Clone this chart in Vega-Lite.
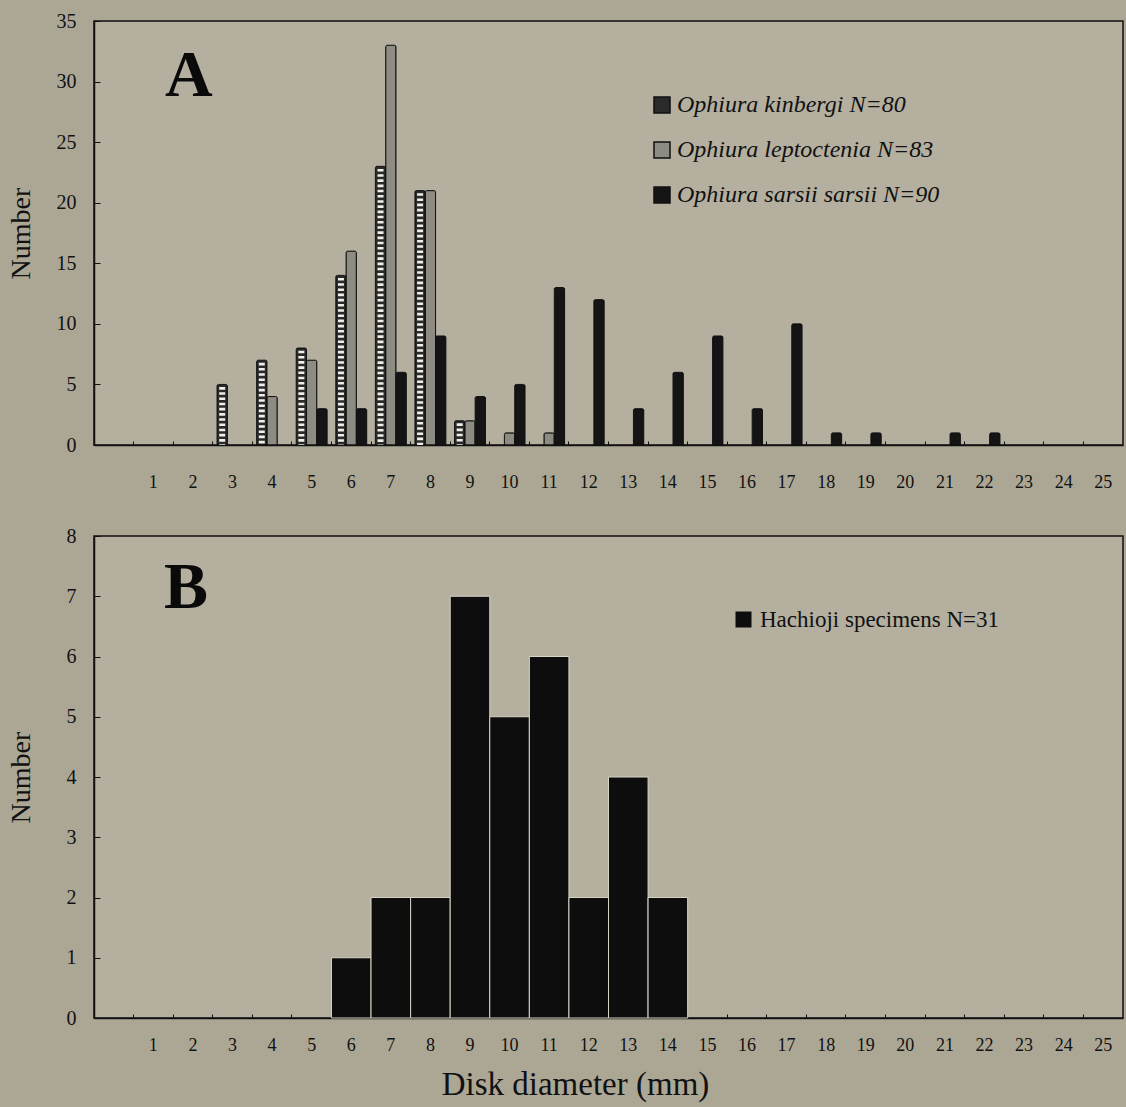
{
  "$schema": "https://vega.github.io/schema/vega-lite/v6.json",
  "background": "#aca795",
  "padding": {"left": 6, "top": 10, "right": 3, "bottom": 5},
  "spacing": 33,
  "resolve": {"scale": {"fill": "independent", "x": "independent", "y": "independent"}, "legend": {"fill": "independent"}},
  "datasets": {
    "panelA": [
      {"size": 3, "species": "Ophiura kinbergi", "legend": "Ophiura kinbergi N=80", "n": 5},
      {"size": 4, "species": "Ophiura kinbergi", "legend": "Ophiura kinbergi N=80", "n": 7},
      {"size": 4, "species": "Ophiura leptoctenia", "legend": "Ophiura leptoctenia N=83", "n": 4},
      {"size": 5, "species": "Ophiura kinbergi", "legend": "Ophiura kinbergi N=80", "n": 8},
      {"size": 5, "species": "Ophiura leptoctenia", "legend": "Ophiura leptoctenia N=83", "n": 7},
      {"size": 5, "species": "Ophiura sarsii sarsii", "legend": "Ophiura sarsii sarsii N=90", "n": 3},
      {"size": 6, "species": "Ophiura kinbergi", "legend": "Ophiura kinbergi N=80", "n": 14},
      {"size": 6, "species": "Ophiura leptoctenia", "legend": "Ophiura leptoctenia N=83", "n": 16},
      {"size": 6, "species": "Ophiura sarsii sarsii", "legend": "Ophiura sarsii sarsii N=90", "n": 3},
      {"size": 7, "species": "Ophiura kinbergi", "legend": "Ophiura kinbergi N=80", "n": 23},
      {"size": 7, "species": "Ophiura leptoctenia", "legend": "Ophiura leptoctenia N=83", "n": 33},
      {"size": 7, "species": "Ophiura sarsii sarsii", "legend": "Ophiura sarsii sarsii N=90", "n": 6},
      {"size": 8, "species": "Ophiura kinbergi", "legend": "Ophiura kinbergi N=80", "n": 21},
      {"size": 8, "species": "Ophiura leptoctenia", "legend": "Ophiura leptoctenia N=83", "n": 21},
      {"size": 8, "species": "Ophiura sarsii sarsii", "legend": "Ophiura sarsii sarsii N=90", "n": 9},
      {"size": 9, "species": "Ophiura kinbergi", "legend": "Ophiura kinbergi N=80", "n": 2},
      {"size": 9, "species": "Ophiura leptoctenia", "legend": "Ophiura leptoctenia N=83", "n": 2},
      {"size": 9, "species": "Ophiura sarsii sarsii", "legend": "Ophiura sarsii sarsii N=90", "n": 4},
      {"size": 10, "species": "Ophiura leptoctenia", "legend": "Ophiura leptoctenia N=83", "n": 1},
      {"size": 10, "species": "Ophiura sarsii sarsii", "legend": "Ophiura sarsii sarsii N=90", "n": 5},
      {"size": 11, "species": "Ophiura leptoctenia", "legend": "Ophiura leptoctenia N=83", "n": 1},
      {"size": 11, "species": "Ophiura sarsii sarsii", "legend": "Ophiura sarsii sarsii N=90", "n": 13},
      {"size": 12, "species": "Ophiura sarsii sarsii", "legend": "Ophiura sarsii sarsii N=90", "n": 12},
      {"size": 13, "species": "Ophiura sarsii sarsii", "legend": "Ophiura sarsii sarsii N=90", "n": 3},
      {"size": 14, "species": "Ophiura sarsii sarsii", "legend": "Ophiura sarsii sarsii N=90", "n": 6},
      {"size": 15, "species": "Ophiura sarsii sarsii", "legend": "Ophiura sarsii sarsii N=90", "n": 9},
      {"size": 16, "species": "Ophiura sarsii sarsii", "legend": "Ophiura sarsii sarsii N=90", "n": 3},
      {"size": 17, "species": "Ophiura sarsii sarsii", "legend": "Ophiura sarsii sarsii N=90", "n": 10},
      {"size": 18, "species": "Ophiura sarsii sarsii", "legend": "Ophiura sarsii sarsii N=90", "n": 1},
      {"size": 19, "species": "Ophiura sarsii sarsii", "legend": "Ophiura sarsii sarsii N=90", "n": 1},
      {"size": 21, "species": "Ophiura sarsii sarsii", "legend": "Ophiura sarsii sarsii N=90", "n": 1},
      {"size": 22, "species": "Ophiura sarsii sarsii", "legend": "Ophiura sarsii sarsii N=90", "n": 1}
    ],
    "panelB": [
      {"size": 6, "legend": "Hachioji specimens N=31", "n": 1},
      {"size": 7, "legend": "Hachioji specimens N=31", "n": 2},
      {"size": 8, "legend": "Hachioji specimens N=31", "n": 2},
      {"size": 9, "legend": "Hachioji specimens N=31", "n": 7},
      {"size": 10, "legend": "Hachioji specimens N=31", "n": 5},
      {"size": 11, "legend": "Hachioji specimens N=31", "n": 6},
      {"size": 12, "legend": "Hachioji specimens N=31", "n": 2},
      {"size": 13, "legend": "Hachioji specimens N=31", "n": 4},
      {"size": 14, "legend": "Hachioji specimens N=31", "n": 2}
    ]
  },
  "vconcat": [
    {
      "width": 1029,
      "height": 424,
      "data": {"name": "panelA"},
      "title": {"text": "A", "anchor": "start", "frame": "group", "dx": 71, "offset": -151, "baseline": "alphabetic", "font": "Liberation Serif", "fontSize": 66, "fontWeight": "bold", "color": "#0a0a0a"},
      "layer": [
        {
          "mark": {"type": "bar", "stroke": "#111", "strokeWidth": 1, "cornerRadiusEnd": 1.5},
          "encoding": {
            "x": {"field": "size", "type": "ordinal", "scale": {"domain": [0,1,2,3,4,5,6,7,8,9,10,11,12,13,14,15,16,17,18,19,20,21,22,23,24,25], "paddingInner": 0, "paddingOuter": 0},
                  "axis": {"title": null, "values": [1,2,3,4,5,6,7,8,9,10,11,12,13,14,15,16,17,18,19,20,21,22,23,24,25], "bandPosition": 0, "labelAngle": 0, "tickSize": -4, "labelPadding": 32}},
            "xOffset": {"field": "species", "type": "nominal", "scale": {"domain": ["Ophiura kinbergi", "Ophiura leptoctenia", "Ophiura sarsii sarsii"], "paddingInner": 0, "paddingOuter": 0.42}},
            "y": {"field": "n", "type": "quantitative", "scale": {"domain": [0, 35], "nice": false},
                  "axis": {"title": "Number", "values": [0,5,10,15,20,25,30,35], "tickSize": -6, "labelPadding": 24, "labelFontSize": 20, "minExtent": 38, "maxExtent": 38, "titlePadding": 21}},
            "fill": {"field": "legend", "type": "nominal",
                     "scale": {"domain": ["Ophiura kinbergi N=80", "Ophiura leptoctenia N=83", "Ophiura sarsii sarsii N=90"], "range": ["#2a2a2a", "#8e8b82", "#141414"]},
                     "legend": {"orient": "none", "legendX": 556, "legendY": 72, "title": null, "padding": 0, "symbolType": "square", "symbolSize": 256, "symbolStrokeColor": "#111", "symbolStrokeWidth": 1.5, "labelFont": "Liberation Serif", "labelFontStyle": "italic", "labelFontSize": 24, "labelColor": "#111", "labelLimit": 500, "rowPadding": 21, "labelOffset": 3}}
          }
        },
        {
          "transform": [{"filter": "datum.species === 'Ophiura kinbergi'"}],
          "mark": {"type": "rule", "stroke": "#f0efea", "strokeWidth": 6, "strokeDash": [2.6, 2.6], "strokeDashOffset": 2.6},
          "encoding": {
            "x": {"field": "size", "type": "ordinal"},
            "xOffset": {"field": "species", "type": "nominal"},
            "y": {"field": "n", "type": "quantitative"},
            "y2": {"datum": 0}
          }
        }
      ]
    },
    {
      "width": 1029,
      "height": 482,
      "data": {"name": "panelB"},
      "title": {"text": "B", "anchor": "start", "frame": "group", "dx": 70, "offset": -148, "baseline": "alphabetic", "font": "Liberation Serif", "fontSize": 66, "fontWeight": "bold", "color": "#0a0a0a"},
      "mark": {"type": "bar", "stroke": "#d8d4c6", "strokeWidth": 1},
      "encoding": {
        "x": {"field": "size", "type": "ordinal", "scale": {"domain": [0,1,2,3,4,5,6,7,8,9,10,11,12,13,14,15,16,17,18,19,20,21,22,23,24,25], "paddingInner": 0, "paddingOuter": 0},
              "axis": {"title": "Disk diameter (mm)", "values": [1,2,3,4,5,6,7,8,9,10,11,12,13,14,15,16,17,18,19,20,21,22,23,24,25], "bandPosition": 0, "labelAngle": 0, "tickSize": -4, "labelPadding": 22, "titleFontSize": 33, "titlePadding": 14, "titleX": 481}},
        "y": {"field": "n", "type": "quantitative", "scale": {"domain": [0, 8], "nice": false},
              "axis": {"title": "Number", "values": [0,1,2,3,4,5,6,7,8], "tickSize": -6, "labelPadding": 24, "labelFontSize": 20, "minExtent": 38, "maxExtent": 38, "titlePadding": 21}},
        "fill": {"field": "legend", "type": "nominal", "scale": {"range": ["#0d0d0d"]},
                 "legend": {"orient": "none", "legendX": 638, "legendY": 72, "title": null, "padding": 0, "symbolType": "square", "symbolSize": 256, "symbolStrokeWidth": 0, "labelFont": "Liberation Serif", "labelFontSize": 23, "labelColor": "#111", "labelLimit": 500, "labelOffset": 5}}
      }
    }
  ],
  "config": {
    "view": {"fill": "#b4af9f", "stroke": "#111", "strokeWidth": 1.5},
    "axis": {"grid": false, "domainColor": "#111", "domainWidth": 1.5, "tickColor": "#111", "tickWidth": 1, "labelColor": "#111", "labelFont": "Liberation Serif", "labelFontSize": 18, "titleFont": "Liberation Serif", "titleFontSize": 28, "titleFontWeight": "normal", "titleColor": "#111"}
  }
}
